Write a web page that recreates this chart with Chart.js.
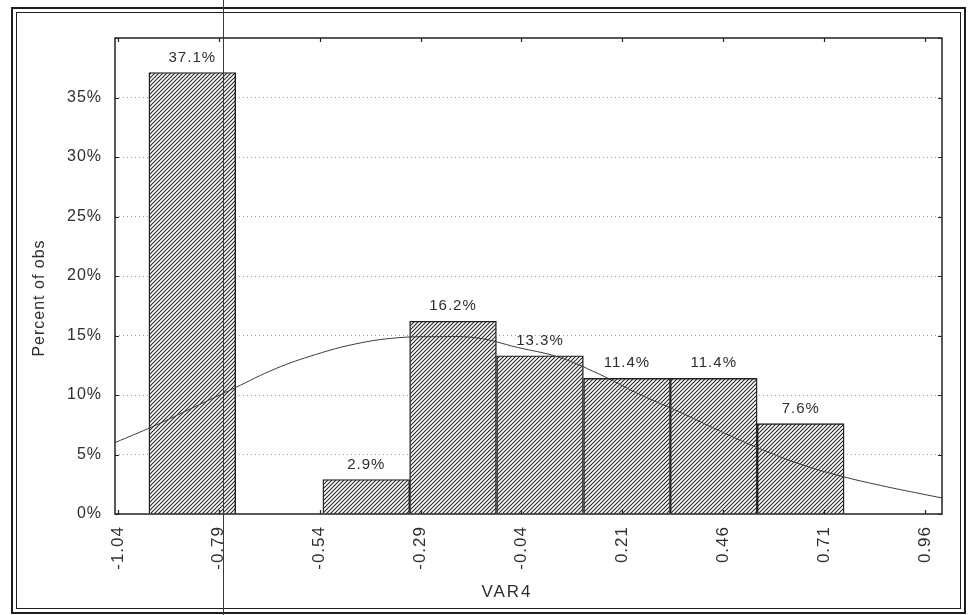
<!DOCTYPE html>
<html>
<head>
<meta charset="utf-8">
<title>VAR4 histogram</title>
<script src="https://cdn.jsdelivr.net/npm/chart.js@4.4.1/dist/chart.umd.min.js"></script>
<style>
  html, body { margin: 0; padding: 0; background: #fff; }
  #wrap { width: 969px; height: 615px; }
</style>
</head>
<body>
<div id="wrap"><canvas id="c" width="969" height="615"></canvas></div>
<script>
// Histogram of VAR4: bin edges and percent of observations per bin
const binEdges = [-0.963, -0.748, -0.532, -0.317, -0.102, 0.114, 0.329, 0.544, 0.760];
const binPercents = [37.1, 0, 2.9, 16.2, 13.3, 11.4, 11.4, 7.6];

// Fitted normal curve, expressed in percent per bin
const curveX = [-1.047, -0.95, -0.85, -0.75, -0.65, -0.55, -0.45, -0.35, -0.25, -0.15,
                -0.05, 0.05, 0.15, 0.25, 0.35, 0.45, 0.55, 0.65, 0.75, 0.85, 0.95, 1.002];
const curveY = [6.0, 7.4, 9.0, 10.6, 12.2, 13.4, 14.3, 14.8, 14.9, 14.8,
                14.0, 13.2, 11.8, 10.1, 8.6, 7.0, 5.5, 4.2, 3.2, 2.4, 1.7, 1.35];

// Axis tick values
const xTickValues = [-1.04, -0.79, -0.54, -0.29, -0.04, 0.21, 0.46, 0.71, 0.96];
const yTickValues = [0, 5, 10, 15, 20, 25, 30, 35, 40];

const xTitle = 'VAR4';
const yTitle = 'Percent of obs';

const FONT = "'Liberation Sans', Arial, sans-serif";
const INK = '#2e2e2e';

// Diagonal hatch fill for the bars
function hatchPattern() {
  const s = 4;
  const p = document.createElement('canvas');
  p.width = s; p.height = s;
  const g = p.getContext('2d');
  g.fillStyle = '#ffffff';
  g.fillRect(0, 0, s, s);
  g.strokeStyle = '#262626';
  g.lineWidth = 1.1;
  g.beginPath();
  g.moveTo(-1, s + 1); g.lineTo(s + 1, -1);
  g.moveTo(-1, 1); g.lineTo(1, -1);
  g.moveTo(s - 1, s + 1); g.lineTo(s + 1, s - 1);
  g.stroke();
  return g.createPattern(p, 'repeat');
}

const ctx = document.getElementById('c').getContext('2d');

const barData = binPercents.map((v, i) => ({ x: (binEdges[i] + binEdges[i + 1]) / 2, y: v }));
const curveData = curveX.map((x, i) => ({ x: x, y: curveY[i] }));

// Frame, inward ticks, value labels and axis titles
const decorations = {
  id: 'decorations',
  beforeDraw(chart) {
    const c = chart.ctx;
    c.save();
    c.fillStyle = '#fff';
    c.fillRect(0, 0, chart.width, chart.height);
    c.restore();
    // slightly spaced lettering for all chart text
    c.letterSpacing = '1px';
  },
  afterDatasetsDraw(chart) {
    const c = chart.ctx;
    const a = chart.chartArea;
    const xs = chart.scales.x, ys = chart.scales.y;
    c.save();

    // plot frame
    c.strokeStyle = '#222';
    c.lineWidth = 1.5;
    c.strokeRect(a.left, a.top, a.right - a.left, a.bottom - a.top);

    // inward tick marks on all four sides
    c.lineWidth = 1.2;
    c.beginPath();
    xTickValues.forEach(v => {
      const px = Math.round(xs.getPixelForValue(v)) + 0.5;
      c.moveTo(px, a.bottom); c.lineTo(px, a.bottom - 4);
      c.moveTo(px, a.top); c.lineTo(px, a.top + 4);
    });
    yTickValues.forEach(v => {
      const py = Math.round(ys.getPixelForValue(v)) + 0.5;
      c.moveTo(a.left, py); c.lineTo(a.left + 4, py);
      c.moveTo(a.right, py); c.lineTo(a.right - 4, py);
    });
    c.stroke();

    // value labels above bars
    const meta = chart.getDatasetMeta(1);
    c.fillStyle = INK;
    c.font = '15px ' + FONT;
    c.textAlign = 'center';
    c.textBaseline = 'middle';
    c.letterSpacing = '1px';
    meta.data.forEach((bar, i) => {
      const v = binPercents[i];
      if (v > 0) c.fillText(v.toFixed(1) + '%', bar.x, bar.y - 15);
    });

    // axis titles
    c.font = '17px ' + FONT;
    c.letterSpacing = '2px';
    c.fillText(xTitle, 507, 592);
    c.font = '16px ' + FONT;
    c.letterSpacing = '1px';
    c.translate(40, 298);
    c.rotate(-Math.PI / 2);
    c.fillText(yTitle, 0, 0);
    c.restore();

    // outer double border of the figure
    c.save();
    c.strokeStyle = '#1e1e1e';
    c.lineWidth = 2;
    c.strokeRect(12, 8, 953, 605);
    c.lineWidth = 1;
    c.strokeRect(16.5, 12.5, 944, 596);
    // vertical rule across the sheet
    c.strokeStyle = '#3a3a3a';
    c.lineWidth = 1;
    c.beginPath();
    c.moveTo(223.5, 0); c.lineTo(223.5, 615);
    c.stroke();
    c.restore();
  }
};

new Chart(ctx, {
  data: {
    datasets: [
      {
        type: 'line',
        data: curveData,
        borderColor: '#3c3c3c',
        borderWidth: 1,
        pointRadius: 0,
        tension: 0.4,
        fill: false,
        order: 0
      },
      {
        type: 'bar',
        data: barData,
        backgroundColor: hatchPattern(),
        borderColor: '#1f1f1f',
        borderWidth: 1.4,
        barPercentage: 1,
        categoryPercentage: 1,
        grouped: false,
        order: 1
      }
    ]
  },
  options: {
    responsive: false,
    animation: false,
    devicePixelRatio: 1,
    layout: { padding: { left: 0, top: 38, right: 27, bottom: 0 } },
    plugins: {
      legend: { display: false },
      tooltip: { enabled: false },
      title: { display: false }
    },
    scales: {
      x: {
        type: 'linear',
        min: -1.047,
        max: 1.002,
        offset: false,
        border: { display: false },
        grid: { display: false, drawTicks: false },
        afterBuildTicks(scale) { scale.ticks = xTickValues.map(v => ({ value: v })); },
        afterFit(scale) { scale.height = 101; },
        ticks: {
          autoSkip: false,
          minRotation: 90,
          maxRotation: 90,
          padding: 12,
          color: INK,
          font: { family: FONT, size: 17 },
          callback: v => Number(v).toFixed(2)
        }
      },
      y: {
        type: 'linear',
        min: 0,
        max: 40,
        border: { display: false, dash: [1, 3] },
        grid: {
          drawTicks: false,
          color: c => (c.tick && (c.tick.value === 0 || c.tick.value === 40)) ? 'rgba(0,0,0,0)' : '#9a9a9a',
          lineWidth: 1
        },
        afterBuildTicks(scale) { scale.ticks = yTickValues.map(v => ({ value: v })); },
        afterFit(scale) { scale.width = 115; },
        ticks: {
          padding: 13,
          color: INK,
          font: { family: FONT, size: 16 },
          callback: v => (v === 40 ? '' : v + '%')
        }
      }
    }
  },
  plugins: [decorations]
});
</script>
</body>
</html>
